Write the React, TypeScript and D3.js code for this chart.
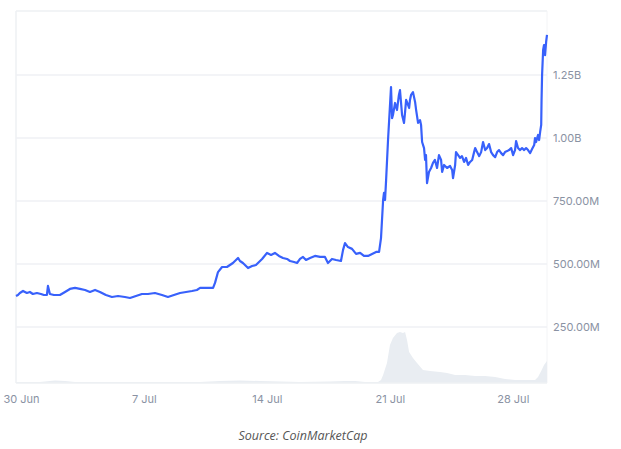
import React from "react";
import * as d3 from "d3";

// Days since 30 Jun (00:00)
const priceDays = [-0.31,-0.2,-0.09,0.09,0.31,0.48,0.65,0.88,1.11,1.28,1.45,1.51,1.62,1.85,2.19,2.48,2.76,3.05,3.33,3.62,3.9,4.19,4.47,4.81,5.15,5.5,5.89,6.18,6.52,6.86,7.2,7.6,8.0,8.34,8.68,9.03,9.37,9.71,9.99,10.17,10.56,10.91,11.02,11.19,11.42,11.7,12.04,12.33,12.44,12.61,12.9,13.13,13.35,13.7,13.98,14.21,14.43,14.66,14.89,15.12,15.29,15.52,15.69,15.86,16.03,16.2,16.43,16.71,17.0,17.28,17.45,17.68,17.91,18.19,18.31,18.42,18.59,18.82,19.05,19.28,19.5,19.73,19.96,20.19,20.36,20.47,20.59,20.64,20.7,20.76,20.87,21.04,21.1,21.15,21.27,21.38,21.49,21.55,21.67,21.78,21.84,21.9,22.01,22.07,22.12,22.18,22.29,22.41,22.47,22.58,22.69,22.75,22.81,22.92,22.98,23.03,23.09,23.2,23.32,23.43,23.54,23.66,23.77,23.89,23.95,24.06,24.23,24.4,24.52,24.57,24.69,24.74,24.86,24.97,25.08,25.2,25.31,25.43,25.54,25.66,25.77,25.83,25.94,26.06,26.17,26.28,26.4,26.51,26.62,26.74,26.85,26.97,27.08,27.19,27.31,27.42,27.53,27.65,27.76,27.88,27.99,28.1,28.16,28.27,28.39,28.5,28.62,28.73,28.84,28.96,29.07,29.19,29.24,29.3,29.36,29.41,29.47,29.53,29.59,29.61,29.64,29.7,29.75,29.81,29.87,29.92];

// Market cap, millions USD
const priceValues = [373,377,385,393,385,389,381,385,381,377,377,413,381,377,377,389,401,405,401,397,389,397,389,377,369,373,369,365,373,381,381,385,377,369,377,385,389,393,397,405,405,405,425,468,488,488,504,524,512,504,484,492,496,520,544,536,544,532,524,520,512,508,504,520,528,516,524,532,528,528,504,520,516,512,556,583,567,560,540,544,532,532,540,548,548,603,754,782,754,833,992,1202,1079,1091,1139,1111,1171,1190,1091,1060,1103,1151,1131,1119,1151,1171,1182,1143,1111,1060,1071,1052,984,960,913,932,821,865,881,901,913,881,932,913,865,893,881,889,873,841,893,944,932,921,928,905,921,893,905,913,944,960,944,928,944,984,952,960,976,944,932,924,944,952,940,932,944,948,952,960,932,952,988,960,952,960,952,960,952,940,956,972,1000,984,1000,1012,992,1024,1052,1151,1250,1349,1369,1329,1381,1409];

const volumeDays = [-0.31,1.05,1.62,1.91,2.48,3.05,4.47,6.75,10.17,11.3,12.44,13.58,14.72,15.86,17.57,18.42,18.99,19.56,20.3,20.47,20.59,20.81,20.98,21.15,21.38,21.55,21.72,21.84,21.95,22.07,22.29,22.52,22.86,23.26,23.83,24.23,24.69,25.26,25.83,26.4,26.97,27.53,28.1,28.67,29.24,29.41,29.59,29.75,29.92];
// Volume, millions USD
const volumeValues = [4,4,8,10,8,4,4,4,4,8,10,8,6,4,6,8,8,4,4,12,32,80,152,180,200,204,200,204,172,124,100,80,52,48,44,40,32,32,28,28,24,16,12,12,12,24,48,72,88];

const yTicks = [250, 500, 750, 1000, 1250];
const yTickLabels = ["250.00M", "500.00M", "750.00M", "1.00B", "1.25B"];
const xTickDays = [0, 7, 14, 21, 28];
const xTickLabels = ["30 Jun", "7 Jul", "14 Jul", "21 Jul", "28 Jul"];

const W = 621, H = 449;
const left = 16, right = 547, top = 11, bottom = 383;

export default function App() {
  const x = d3.scaleLinear().domain([-0.31, 29.92]).range([left, right]);
  const y = d3.scaleLinear().domain([0, 1500]).range([390, 12]);
  const yv = d3.scaleLinear().domain([0, 240]).range([bottom, bottom - 60]);

  const pts = priceDays.map((d, i) => [d, priceValues[i]] as [number, number]);
  const vpts = volumeDays.map((d, i) => [d, volumeValues[i]] as [number, number]);

  const line = d3.line<[number, number]>().x(d => x(d[0])).y(d => y(d[1]));
  const area = d3.area<[number, number]>().x(d => x(d[0])).y0(bottom).y1(d => yv(d[1]));

  const font = "Inter, 'Noto Sans', Arial, sans-serif";

  return (
    <svg width={W} height={H} style={{ position: "absolute", left: 0, top: 0, background: "#fff" }}>
      <rect x={0} y={0} width={W} height={H} fill="#fff" />
      {/* frame */}
      <line x1={left} x2={right} y1={top} y2={top} stroke="#eef0f3" strokeWidth={1.5} />
      <line x1={left} x2={left} y1={top} y2={bottom} stroke="#eef0f3" strokeWidth={1.5} />
      <line x1={right} x2={right} y1={top} y2={bottom} stroke="#f3f4f6" strokeWidth={1} />
      {yTicks.map((t, i) => (
        <g key={t}>
          <line x1={left} x2={right} y1={y(t)} y2={y(t)} stroke="#eff1f4" strokeWidth={1.5} />
          <text x={553} y={y(t)} dy="0.35em" fontFamily={font} fontSize={11} fill="#8a92a3">
            {yTickLabels[i]}
          </text>
        </g>
      ))}
      <path d={area(vpts) || ""} fill="#e9edf2" />
      <line x1={left} x2={right} y1={bottom} y2={bottom} stroke="#eef0f3" strokeWidth={1.5} />
      <path d={line(pts) || ""} fill="none" stroke="#3861fb" strokeWidth={2.2} strokeLinejoin="round" />
      {xTickDays.map((d, i) => (
        <text key={d} x={x(d)} y={403} textAnchor="middle" fontFamily={font} fontSize={11} fill="#8a92a3">
          {xTickLabels[i]}
        </text>
      ))}
      <text x={303} y={440} textAnchor="middle" fontFamily="'Open Sans', sans-serif" fontStyle="italic" fontSize={12.5} fill="#555">
        Source: CoinMarketCap
      </text>
    </svg>
  );
}
